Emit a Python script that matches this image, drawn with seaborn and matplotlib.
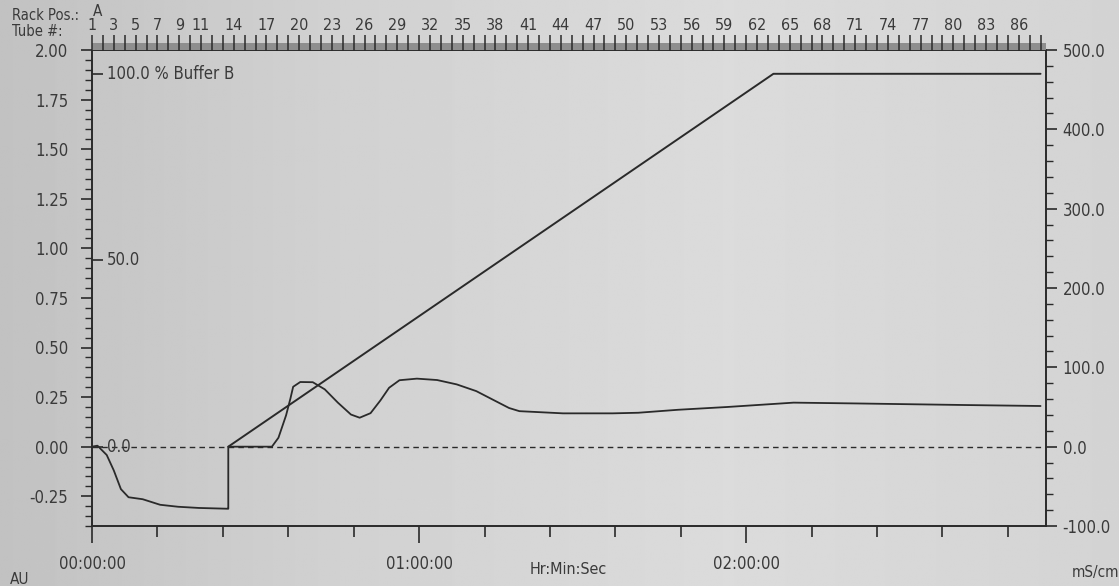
import numpy as np
import pandas as pd
import matplotlib
matplotlib.use("Agg")
import matplotlib.pyplot as plt
import matplotlib.transforms as mtrans
from matplotlib.ticker import MultipleLocator, FixedLocator, FuncFormatter
import seaborn as sns

# ---------------- data ----------------
uv_time = [0.0, 1.0, 2.7, 4.0, 5.3, 6.7, 9.3, 12.5, 15.8, 19.6, 24.9, 25.0,
           25.0, 33.0, 34.2, 35.6, 36.4, 36.9, 38.2, 40.5, 42.7, 45.1, 47.5,
           49.1, 51.1, 52.9, 54.5, 56.4, 59.6, 63.3, 66.9, 70.5, 73.6, 76.5,
           78.4, 86.4, 95.5, 100.2, 107.5, 116.5, 128.7, 140.0, 160.0, 174.0]
uv_au = [0.0, 0.005, -0.042, -0.12, -0.214, -0.255, -0.265, -0.293, -0.303,
         -0.309, -0.313, -0.313, 0.0, 0.0, 0.045, 0.158, 0.243, 0.302, 0.326,
         0.325, 0.289, 0.222, 0.162, 0.146, 0.169, 0.233, 0.297, 0.335, 0.343,
         0.336, 0.314, 0.28, 0.236, 0.195, 0.179, 0.168, 0.168, 0.171, 0.186,
         0.2, 0.222, 0.218, 0.21, 0.205]

grad_time = [25.0, 125.0, 174.0]
grad_pct_b = [0.0, 100.0, 100.0]

cond_time = [0.0, 175.0]
cond_ms = [0.0, 0.0]

time_ticks = [0, 60, 120]
time_labels = ["00:00:00", "01:00:00", "02:00:00"]
au_ticks = [-0.25, 0.0, 0.25, 0.5, 0.75, 1.0, 1.25, 1.5, 1.75, 2.0]
ms_ticks = [-100, 0, 100, 200, 300, 400, 500]
pctb_ticks = [0, 50, 100]
pctb_labels = ["0.0", "50.0", "100.0 % Buffer B"]
tube_numbers = list(range(1, 89))
tube_labels = [1, 3, 5, 7, 9, 11] + list(range(14, 87, 3))
fraction_minutes = 2.0

# ---------------- style ----------------
sns.set_theme(style="ticks")
FONT = ["Liberation Sans Narrow", "DejaVu Sans", "Liberation Sans"]
plt.rcParams["font.family"] = FONT
plt.rcParams["font.stretch"] = "condensed"
TXT = "#3a3a3a"
LINE = "#2a2a2a"
plt.rcParams.update({
    "axes.edgecolor": LINE, "xtick.color": LINE, "ytick.color": LINE,
    "xtick.labelcolor": TXT, "ytick.labelcolor": TXT, "text.color": TXT,
    "axes.linewidth": 1.4,
})

W, H = 1119, 586
fig = plt.figure(figsize=(W / 100, H / 100), dpi=100)

# photo-like background
bg = fig.add_axes([0, 0, 1, 1], zorder=-10)
g = np.interp(np.linspace(0, 1, 400), [0, 0.3, 0.65, 1], [0.76, 0.82, 0.86, 0.83])
bg.imshow(np.tile(g, (10, 1)), cmap="gray", vmin=0, vmax=1, aspect="auto",
          extent=[0, 1, 0, 1])
bg.axis("off")

L, R, T, B = 92, 1046, 50, 526
ax = fig.add_axes([L / W, 1 - B / H, (R - L) / W, (B - T) / H])
ax.patch.set_alpha(0)
ax.set_xlim(0, 175)
ax.set_ylim(-0.4, 2.0)

df_uv = pd.DataFrame({"time": uv_time, "au": uv_au})
sns.lineplot(data=df_uv, x="time", y="au", ax=ax, estimator=None, sort=False,
             color=LINE, linewidth=1.3)

ax.set_yticks(au_ticks)
ax.yaxis.set_major_formatter(FuncFormatter(lambda v, p: f"{v:.2f}"))
ax.yaxis.set_minor_locator(MultipleLocator(0.05))
ax.set_xticks(time_ticks)
ax.set_xticklabels(time_labels)
ax.xaxis.set_minor_locator(MultipleLocator(12))
ax.tick_params(axis="y", which="major", length=8, width=1.2, pad=9, labelsize=12)
ax.tick_params(axis="y", which="minor", length=5, width=1.0)
ax.tick_params(axis="x", which="major", length=12, width=1.2, pad=9, labelsize=12)
ax.tick_params(axis="x", which="minor", length=8, width=1.2)
ax.set_xlabel("")
ax.set_ylabel("")
for s in ["left", "bottom", "top"]:
    ax.spines[s].set_visible(True)
ax.spines["right"].set_visible(False)

# conductivity axis (right)
ax2 = ax.twinx()
ax2.set_ylim(-100, 500)
df_c = pd.DataFrame({"time": cond_time, "ms": cond_ms})
sns.lineplot(data=df_c, x="time", y="ms", ax=ax2, estimator=None, sort=False,
             color=LINE, linewidth=1.0, linestyle=(0, (4, 3)))
ax2.set_yticks(ms_ticks)
ax2.yaxis.set_major_formatter(FuncFormatter(lambda v, p: f"{v:.1f}"))
ax2.yaxis.set_minor_locator(MultipleLocator(20))
ax2.tick_params(axis="y", which="major", length=8, width=1.2, pad=4, labelsize=12)
ax2.tick_params(axis="y", which="minor", length=5, width=1.0)
ax2.set_ylabel("")
for s in ["left", "bottom", "top"]:
    ax2.spines[s].set_visible(False)
ax2.spines["right"].set_visible(True)

# %B axis (inside left)
ax3 = ax.twinx()
ax3.set_ylim(-0.4 / 1.88 * 100, 2.0 / 1.88 * 100)
df_g = pd.DataFrame({"time": grad_time, "b": grad_pct_b})
sns.lineplot(data=df_g, x="time", y="b", ax=ax3, estimator=None, sort=False,
             color=LINE, linewidth=1.4)
for s in ax3.spines.values():
    s.set_visible(False)
ax3.yaxis.set_ticks_position("left")
ax3.set_yticks(pctb_ticks)
ax3.set_yticklabels([])
ax3.tick_params(axis="y", direction="in", length=8, width=1.2, left=True, right=False)
ax3.set_ylabel("")
tr = mtrans.blended_transform_factory(ax.transAxes, ax3.transData)
for v, lab in zip(pctb_ticks, pctb_labels):
    ax3.text(0.016, v, lab, transform=tr, ha="left", va="center", fontsize=12,
             color=TXT)

# fraction band (top)
fax = fig.add_axes([L / W, 1 - T / H, (R - L) / W, 7 / H])
fax.set_facecolor("#8e8e8e")
fax.set_xlim(0, 175)
fax.set_ylim(0, 1)
fax.set_yticks([])
for s in fax.spines.values():
    s.set_visible(False)
fax.xaxis.set_ticks_position("top")
fax.set_xticks([(n - 1) * fraction_minutes for n in tube_labels])
fax.set_xticklabels([str(n) for n in tube_labels])
fax.xaxis.set_minor_locator(FixedLocator([(n - 1) * fraction_minutes for n in tube_numbers]))
fax.tick_params(axis="x", which="both", direction="inout", length=12, width=1.1,
                top=True, bottom=False, labeltop=True, labelbottom=False,
                labelsize=11.5, pad=1)

# free texts
fig.text(12 / W, 1 - 15 / H, "Rack Pos.:", ha="left", va="center", fontsize=10.5)
fig.text(12 / W, 1 - 31 / H, "Tube #:", ha="left", va="center", fontsize=10.5)
fig.text(93 / W, 1 - 12 / H, "A", ha="left", va="center", fontsize=11)
fig.text(568 / W, 1 - 570 / H, "Hr:Min:Sec", ha="center", va="center", fontsize=11.5)
fig.text(10 / W, 1 - 579 / H, "AU", ha="left", va="center", fontsize=11)
fig.text(1072 / W, 1 - 572 / H, "mS/cm", ha="left", va="center", fontsize=11)

fig.savefig("out.png", dpi=100)
